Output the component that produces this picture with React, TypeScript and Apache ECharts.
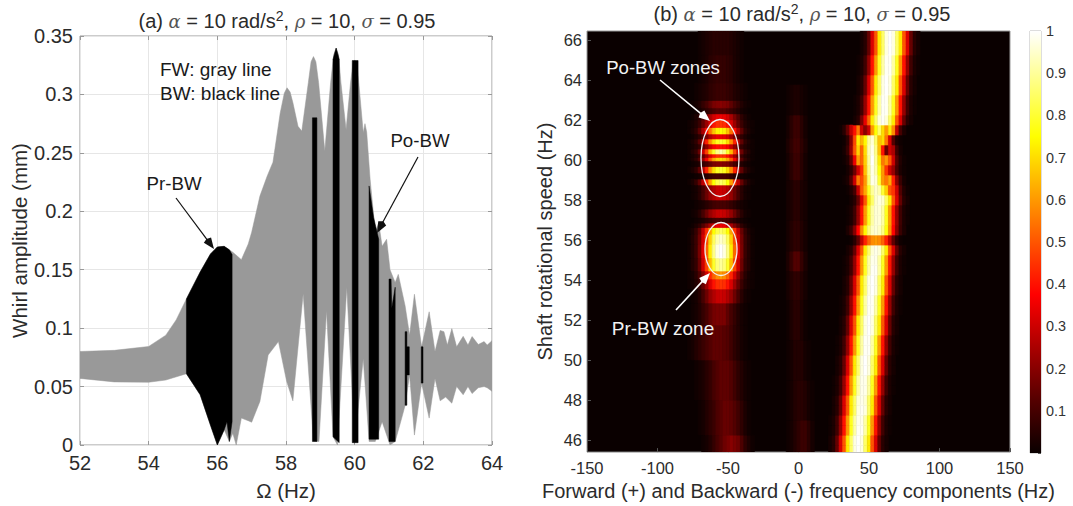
import React, { useEffect, useRef } from "react";
import * as echarts from "echarts";

// ---------- panel (a): whirl amplitude envelopes, [Hz, mm] outlines ----------
const grayUpper = [
  [52, 0.08], [53, 0.081], [54, 0.0843], [54.5, 0.094], [54.8, 0.107], [55.1, 0.125], [55.5, 0.148], [55.8, 0.1635], [56, 0.1695],
  [56.2, 0.17], [56.45, 0.165], [56.7, 0.1586], [56.9, 0.172], [57, 0.182], [57.24, 0.213], [57.45, 0.23], [57.62, 0.242],
  [57.83, 0.284], [57.95, 0.301], [58.03, 0.3057], [58.12, 0.302], [58.2, 0.293], [58.35, 0.2727], [58.46, 0.2686], [58.65, 0.31], [58.73, 0.328], [58.8, 0.3324],
  [58.87, 0.328], [58.95, 0.31], [59.13, 0.2515], [59.3, 0.31], [59.39, 0.334], [59.46, 0.3397], [59.53, 0.334], [59.6, 0.31], [59.75, 0.27], [59.88, 0.31], [59.95, 0.326], [60, 0.3295],
  [60.06, 0.327], [60.12, 0.31], [60.25, 0.2672], [60.3, 0.275], [60.35, 0.2678], [60.45, 0.2274], [60.6, 0.182], [60.7, 0.19], [60.8, 0.17],
  [60.93, 0.176], [61.03, 0.15], [61.18, 0.139], [61.27, 0.146], [61.47, 0.119], [61.6, 0.094], [61.74, 0.129], [61.95, 0.084],
  [62.17, 0.114], [62.34, 0.08], [62.49, 0.098], [62.6, 0.097], [62.7, 0.0855], [62.83, 0.0996], [62.97, 0.084], [63.16, 0.093],
  [63.3, 0.0855], [63.42, 0.0928], [63.6, 0.086], [63.77, 0.0885], [63.86, 0.0855], [64, 0.0893],
];
const grayLower = [
  [52, 0.057], [53, 0.054], [54, 0.0537], [54.5, 0.0556], [55.1, 0.061], [55.5, 0.043], [55.8, 0.017], [56, 0], [56.2, 0.013],
  [56.35, 0.003], [56.45, 0.01], [56.55, 0], [56.7, 0.023], [56.9, 0.0208], [57, 0.0195], [57.24, 0.0373], [57.48, 0.077],
  [57.78, 0.0885], [58.02, 0.0543], [58.2, 0.0378], [58.5, 0.1294], [58.8, 0.0034], [58.96, 0.003], [59.18, 0.115], [59.37, 0.007],
  [59.5, 0], [59.77, 0.135], [60, 0.002], [60.25, 0.074], [60.42, 0.003], [60.6, 0.003], [60.8, 0.02], [61.03, 0], [61.18, 0.003],
  [61.37, 0.023], [61.47, 0.034], [61.6, 0.06], [61.74, 0.0085], [61.95, 0.0528], [62.17, 0.023], [62.34, 0.057], [62.49, 0.0378],
  [62.65, 0.041], [62.83, 0.0358], [62.97, 0.05], [63.16, 0.043], [63.3, 0.05], [63.42, 0.044], [63.6, 0.049], [63.77, 0.05],
  [63.86, 0.049], [64, 0.046],
];
const blackBands = [
  [[55.1, 0.125], [55.5, 0.148], [55.8, 0.1635], [56, 0.1695], [56.2, 0.17], [56.35, 0.167], [56.43, 0.163], [56.43, 0.02], [56.35, 0.003], [56.28, 0.02], [56.2, 0.013], [56, 0], [55.8, 0.017], [55.5, 0.043], [55.1, 0.061]],
  [[58.77, 0.28], [58.9, 0.28], [58.9, 0.003], [58.77, 0.003]],
  [[59.37, 0.33], [59.46, 0.3397], [59.55, 0.33], [59.55, 0.002], [59.37, 0.007]],
  [[59.93, 0.329], [60.1, 0.329], [60.1, 0.002], [59.93, 0.002]],
  [[60.42, 0.2217], [60.55, 0.195], [60.7, 0.176], [60.7, 0.005], [60.42, 0.005]],
  [[61, 0.142], [61.06, 0.142], [61.08, 0.117], [61.18, 0.135], [61.18, 0.003], [61, 0.003]],
  [[61.47, 0.097], [61.52, 0.097], [61.52, 0.084], [61.59, 0.084], [61.59, 0.06], [61.52, 0.06], [61.52, 0.034], [61.47, 0.034]],
  [[61.94, 0.084], [61.99, 0.084], [61.99, 0.053], [61.94, 0.053]],
];

// ---------- panel (b): spectrogram values in percent ----------
const forwardHz = [22.5, 25, 27.5, 30, 32.5, 35, 37.5, 40, 42.5, 45, 47.5, 50, 52.5, 55, 57.5, 60, 62.5, 65, 67.5, 70, 72.5, 75, 77.5, 80, 82.5, 85, 87.5];
const forwardSpeed = [45.5, 46, 46.5, 47, 47.5, 48, 48.5, 49, 49.5, 50, 50.5, 51, 51.5, 52, 52.5, 53, 53.5, 54, 54.5, 55, 55.5, 56, 56.5, 57, 57.5, 58, 58.5, 59, 59.5, 60, 60.5, 61, 61.5, 62, 62.5, 63, 63.5, 64, 64.5, 65, 65.5, 66, 66.5];
const forwardValues = [
  [2,5,15,32,50,72,85,97,100,97,85,72,50,32,15,5,2,0,0,0,0,0,0,0,0,0,0],
  [2,5,15,32,50,72,85,97,100,97,85,72,50,32,15,5,2,0,0,0,0,0,0,0,0,0,0],
  [1,3,9,22,40,60,78,91,99,99,91,78,60,40,22,9,3,1,0,0,0,0,0,0,0,0,0],
  [1,3,9,22,40,60,78,91,98,98,91,78,60,40,22,9,3,1,0,0,0,0,0,0,0,0,0],
  [0,2,5,15,32,50,72,85,97,99,97,85,72,50,32,15,5,2,0,0,0,0,0,0,0,0,0],
  [0,2,5,15,32,50,72,85,96,98,96,85,72,50,32,15,5,2,0,0,0,0,0,0,0,0,0],
  [0,1,3,9,22,40,60,78,91,98,98,91,78,60,40,22,9,3,1,0,0,0,0,0,0,0,0],
  [0,1,3,9,22,40,60,78,91,98,98,91,78,60,40,22,9,3,1,0,0,0,0,0,0,0,0],
  [0,0,2,5,15,32,50,72,85,97,100,97,85,72,50,32,15,5,2,0,0,0,0,0,0,0,0],
  [0,0,2,5,15,32,50,72,85,97,100,97,85,72,50,32,15,5,2,0,0,0,0,0,0,0,0],
  [0,0,1,3,9,22,40,60,78,91,99,99,91,78,60,40,22,9,3,1,0,0,0,0,0,0,0],
  [0,0,1,3,9,22,40,60,78,91,99,99,91,78,60,40,22,9,3,1,0,0,0,0,0,0,0],
  [0,0,0,2,5,15,32,50,72,85,97,100,97,85,72,50,32,15,5,2,0,0,0,0,0,0,0],
  [0,0,0,2,5,15,32,50,72,85,97,100,97,85,72,50,32,15,5,2,0,0,0,0,0,0,0],
  [0,0,0,1,3,9,22,40,60,78,91,99,99,91,78,60,40,22,9,3,1,0,0,0,0,0,0],
  [0,0,0,1,3,9,22,40,60,78,91,99,99,91,78,60,40,22,9,3,1,0,0,0,0,0,0],
  [0,0,0,0,2,5,15,32,50,72,85,97,100,97,85,72,50,32,15,5,2,0,0,0,0,0,0],
  [0,0,0,0,2,5,15,32,50,72,85,97,100,97,85,72,50,32,15,5,2,0,0,0,0,0,0],
  [0,0,0,0,1,3,9,22,40,60,78,91,99,99,91,78,60,40,22,9,3,1,0,0,0,0,0],
  [0,0,0,0,1,3,9,22,40,60,78,91,98,98,91,78,60,40,22,9,3,1,0,0,0,0,0],
  [0,0,0,0,0,2,5,15,32,50,72,85,96,98,96,85,72,50,32,15,5,2,0,0,0,0,0],
  [0,0,0,0,0,0,1,5,14,28,42,52,58,60,58,52,42,28,14,5,1,0,0,0,0,0,0],
  [0,0,0,0,0,3,8,20,38,58,74,86,94,96,94,88,76,58,38,20,8,3,0,0,0,0,0],
  [0,0,0,0,0,1,3,9,22,40,60,78,91,96,96,91,78,60,40,22,9,3,1,0,0,0,0],
  [0,0,0,0,0,1,3,9,22,40,60,78,91,96,96,91,78,60,40,22,9,3,1,0,0,0,0],
  [0,0,0,0,0,0,2,5,15,32,50,72,85,95,97,95,85,72,50,32,15,5,2,0,0,0,0],
  [0,0,0,0,0,1,4,10,28,50,62,78,90,95,92,80,68,50,45,30,12,4,1,0,0,0,0],
  [0,0,0,0,1,3,12,30,55,48,60,85,98,96,80,60,55,62,42,20,8,2,0,0,0,0,0],
  [0,0,0,0,0,2,6,16,30,44,66,88,98,92,76,60,45,30,22,10,3,1,0,0,0,0,0],
  [0,0,0,0,1,4,14,35,60,52,68,90,100,90,72,55,60,50,30,12,4,1,0,0,0,0,0],
  [0,0,0,0,2,8,22,50,68,52,70,92,98,88,66,40,15,30,25,8,2,0,0,0,0,0,0],
  [0,0,0,0,1,6,20,48,72,64,74,90,96,85,66,70,55,32,12,3,1,0,0,0,0,0,0],
  [0,0,0,1,5,15,28,40,55,30,20,30,60,75,85,70,60,72,58,28,10,3,0,0,0,0,0],
  [0,0,0,0,0,0,0,2,5,18,34,52,72,85,96,99,96,85,72,50,32,15,5,2,0,0,0],
  [0,0,0,0,0,0,0,1,3,9,22,40,60,78,91,99,99,91,78,60,40,22,9,3,1,0,0],
  [0,0,0,0,0,0,0,1,3,9,22,40,60,78,91,99,99,91,78,60,40,22,9,3,1,0,0],
  [0,0,0,0,0,0,0,0,2,5,15,32,50,72,85,97,100,97,85,72,50,32,15,5,2,0,0],
  [0,0,0,0,0,0,0,0,2,5,15,32,50,72,85,97,100,97,85,72,50,32,15,5,2,0,0],
  [0,0,0,0,0,0,0,0,1,3,9,22,40,60,78,91,99,99,91,78,60,40,22,9,3,1,0],
  [0,0,0,0,0,0,0,0,1,3,9,22,40,60,78,91,99,99,91,78,60,40,22,9,3,1,0],
  [0,0,0,0,0,0,0,0,0,2,5,15,32,50,72,85,97,100,97,85,72,50,32,15,5,2,0],
  [0,0,0,0,0,0,0,0,0,2,5,15,32,50,72,85,97,100,97,85,72,50,32,15,5,2,0],
  [0,0,0,0,0,0,0,0,0,2,5,15,32,50,72,85,97,100,97,85,72,50,32,15,5,2,0],
];
const backwardHz = [-77.5, -75, -72.5, -70, -67.5, -65, -62.5, -60, -57.5, -55, -52.5, -50, -47.5, -45, -42.5, -40, -37.5, -35, -32.5];
const backwardSpeed = [45.5, 47, 49, 51, 52.5, 53.2, 53.9, 54.2, 54.7, 55.5, 56.1, 56.5, 56.75, 56.95, 57.3, 57.8, 58.2, 58.6, 58.9, 59.2, 59.5, 59.85, 60.06, 60.2, 60.4, 60.7, 60.9, 61.2, 61.4, 61.85, 62.17, 62.45, 62.76, 63.2, 64.5, 66];
const backwardValues = [
  [0,0,0,0,1,2,4,7,10,13,16,18,20,18,16,11,6,3,1],
  [0,0,0,1,2,4,6,8,11,13,15,15,14,12,9,6,3,1,0],
  [0,0,1,2,3,5,7,10,12,14,14,14,12,9,6,4,2,1,0],
  [1,2,4,6,8,10,12,14,14,14,13,12,9,6,4,2,1,0,0],
  [0,1,2,4,7,10,14,17,18,18,18,14,10,7,4,2,1,0,0],
  [0,1,2,5,10,16,22,26,29,30,29,26,22,16,10,5,2,1,0],
  [1,2,4,8,15,23,32,40,44,45,44,40,32,23,15,8,4,2,1],
  [1,2,5,11,20,31,43,52,58,60,58,52,43,31,20,11,5,2,1],
  [1,4,7,16,30,47,65,79,87,90,87,79,65,47,30,16,7,4,1],
  [1,4,8,18,33,52,72,88,97,100,97,88,72,52,33,18,8,4,1],
  [1,4,8,17,31,49,68,84,92,95,92,84,68,49,31,17,8,4,1],
  [1,3,7,15,28,44,61,75,82,85,82,75,61,44,28,15,7,3,1],
  [0,1,3,6,12,18,25,31,34,35,34,31,25,18,12,6,3,1,0],
  [0,0,1,2,3,5,7,9,10,10,10,9,7,5,3,2,1,0,0],
  [0,1,2,5,10,16,22,26,29,30,29,26,22,16,10,5,2,1,0],
  [0,0,1,2,3,5,7,9,10,10,10,9,7,5,3,2,1,0,0],
  [0,1,2,5,10,16,22,26,29,30,29,26,22,16,10,5,2,1,0],
  [0,1,2,5,10,16,22,26,29,30,29,26,22,16,10,5,2,1,0],
  [1,3,7,15,28,44,61,75,82,85,82,75,61,44,28,15,7,3,1],
  [0,0,1,2,3,5,7,9,10,10,10,9,7,5,3,2,1,0,0],
  [1,3,6,14,26,42,58,70,78,80,78,70,58,42,26,14,6,3,1],
  [0,1,2,4,7,10,14,18,19,20,19,18,14,10,7,4,2,1,0],
  [1,3,6,13,23,36,50,62,68,70,68,62,50,36,23,13,6,3,1],
  [1,2,4,8,15,23,32,40,44,45,44,40,32,23,15,8,4,2,1],
  [1,4,7,16,30,47,65,79,88,92,88,79,65,47,30,16,7,4,1],
  [1,2,4,7,14,21,29,36,39,40,39,36,29,21,14,7,4,2,1],
  [1,3,6,14,26,42,58,70,78,80,78,70,58,42,26,14,6,3,1],
  [0,1,3,6,12,18,25,31,34,35,34,31,25,18,12,6,3,1,0],
  [1,3,6,14,25,39,54,66,73,75,73,66,54,39,25,14,6,3,1],
  [1,2,4,8,15,23,32,40,44,45,44,40,32,23,15,8,4,2,1],
  [0,1,3,6,12,18,25,31,34,35,34,31,25,18,12,6,3,1,0],
  [0,0,1,2,4,6,8,10,12,12,12,10,8,6,4,2,1,0,0],
  [0,1,2,4,7,10,14,18,19,20,19,18,14,10,7,4,2,1,0],
  [0,0,1,2,3,4,6,7,8,8,8,7,6,4,3,2,1,0,0],
  [0,0,0,1,2,3,5,6,7,7,7,6,5,3,2,1,0,0,0],
  [0,0,0,1,2,3,4,5,5,5,5,5,4,3,2,1,0,0,0],
];
const centreHz = [-7.5, -5, -2.5, 0, 2.5, 5, 7.5, 10];
const centreSpeed = [46, 48, 50, 52, 54, 54.9, 56, 58, 60, 60.7, 61.5, 63];
const centreValues = [
  [1,2,4,6,8,8,5,2],
  [1,2,4,5,5,4,2,1],
  [1,2,4,4,4,2,1,0],
  [1,3,5,5,3,1,0,0],
  [2,4,6,6,4,2,0,0],
  [3,7,12,12,7,3,0,0],
  [2,4,6,6,4,2,0,0],
  [2,3,5,5,3,2,0,0],
  [2,5,8,8,5,2,0,0],
  [3,6,9,9,6,3,0,0],
  [2,5,8,8,5,2,0,0],
  [1,2,3,3,2,1,0,0],
];

const hotStops = ["#0a0000", "#550000", "#aa0000", "#ff0000", "#ff5500", "#ffaa00", "#ffff00", "#ffff80", "#ffffff"];
const leftXTicks = { min: 52, max: 64, interval: 2 };
const rightYTicks = [46, 48, 50, 52, 54, 56, 58, 60, 62, 64, 66];

function edges(c: number[]) {
  const e: number[] = [c[0] - (c[1] - c[0]) / 2];
  for (let i = 0; i < c.length - 1; i++) e.push((c[i] + c[i + 1]) / 2);
  e.push(c[c.length - 1] + (c[c.length - 1] - c[c.length - 2]) / 2);
  return e;
}
function cells(xs: number[], ys: number[], vals: number[][]) {
  const ex = edges(xs), ey = edges(ys);
  const out: number[][] = [];
  vals.forEach((row, j) => row.forEach((v, i) => {
    if (v > 0) out.push([ex[i], ex[i + 1], ey[j], ey[j + 1], v / 100]);
  }));
  return out;
}

const FONT = '"Liberation Sans", Arial, sans-serif';
const AXIS = "#999999";
const TEXT = "#2b2b2b";
const line0 = { show: false, onZero: false };

function outlineSeries(points: number[][], color: string, z: number) {
  return {
    type: "custom", coordinateSystem: "cartesian2d", xAxisIndex: 0, yAxisIndex: 0, clip: true, z, silent: true,
    data: points, encode: { x: 0, y: 1 },
    renderItem: (p: any, api: any) => {
      if (p.dataIndex !== 0) return null;
      return { type: "polygon", shape: { points: points.map((q) => api.coord(q)) }, style: { fill: color, stroke: color, lineWidth: 0.5 } };
    },
  };
}
function cellSeries(data: number[][]) {
  return {
    type: "custom", coordinateSystem: "cartesian2d", xAxisIndex: 2, yAxisIndex: 2, clip: true, silent: true, z: 2,
    data, encode: { x: [0, 1], y: [2, 3] },
    renderItem: (_: any, api: any) => {
      const a = api.coord([api.value(0), api.value(3)]);
      const b = api.coord([api.value(1), api.value(2)]);
      const c = api.visual("color");
      return { type: "rect", shape: { x: a[0], y: a[1], width: b[0] - a[0], height: b[1] - a[1] }, style: { fill: c, stroke: c, lineWidth: 0.6 } };
    },
  };
}
function arrow(x1: number, y1: number, x2: number, y2: number, color: string) {
  const ang = Math.atan2(y2 - y1, x2 - x1);
  const L = 11, W = 4.5;
  const bx = x2 - L * Math.cos(ang), by = y2 - L * Math.sin(ang);
  const nx = -Math.sin(ang) * W, ny = Math.cos(ang) * W;
  return [
    { type: "line", z: 50, shape: { x1, y1, x2: bx, y2: by }, style: { stroke: color, lineWidth: color === "#fff" ? 1.6 : 1.2 } },
    { type: "polygon", z: 50, shape: { points: [[x2, y2], [bx + nx, by + ny], [bx + (x1 - bx) * 0.03, by + (y1 - by) * 0.03], [bx - nx, by - ny]] }, style: { fill: color } },
  ];
}
function label(text: string, x: number, y: number, color: string, size = 18.7, align = "center") {
  return { type: "text", z: 50, x, y, style: { text, fill: color, font: `${size}px ${FONT}`, textAlign: align, textVerticalAlign: "middle" } };
}
const titleRich = {
  n: { fontFamily: FONT, fontWeight: "normal", fontSize: 20, color: TEXT },
  g: { fontFamily: '"DejaVu Serif", serif', fontStyle: "italic", fontWeight: "normal", fontSize: 18, color: "#555" },
  s: { fontFamily: FONT, fontWeight: "normal", fontSize: 14, color: TEXT, verticalAlign: "top", lineHeight: 24 },
};
const titleText = (tag: string) => `{n|${tag} }{g|α}{n| = 10 rad/s}{s|2}{n|, }{g|ρ}{n| = 10, }{g|σ}{n| = 0.95}`;

export default function App() {
  const ref = useRef<HTMLDivElement>(null);
  useEffect(() => {
    const chart = echarts.init(ref.current!, undefined, { renderer: "svg" });
    const box = { show: true, borderColor: AXIS, borderWidth: 1, backgroundColor: "#fff" };
    const bare = { axisLine: line0, axisLabel: { show: false }, splitLine: { show: false } };
    chart.setOption({
      animation: false,
      backgroundColor: "#fff",
      textStyle: { fontFamily: FONT },
      title: [
        { text: titleText("(a)"), left: 282, top: 4, textAlign: "center", textStyle: { fontWeight: "normal", rich: titleRich } },
        { text: titleText("(b)"), left: 797, top: -3, textAlign: "center", textStyle: { fontWeight: "normal", rich: titleRich } },
      ],
      grid: [
        { left: 80, top: 36, width: 412, height: 411, ...box },
        { left: 587, top: 31, width: 423, height: 422, show: true, borderColor: AXIS, borderWidth: 1, backgroundColor: "#0a0000" },
        { left: 1030, top: 31, width: 11, height: 422, show: true, borderColor: "#777", borderWidth: 0.5, backgroundColor: "#fff" },
      ],
      xAxis: [
        {
          gridIndex: 0, type: "value", ...leftXTicks, position: "bottom", name: "Ω (Hz)", nameLocation: "middle", nameGap: 35,
          nameTextStyle: { fontFamily: FONT, fontSize: 20.5, color: TEXT },
          axisLine: line0, axisTick: { inside: true, length: 4, lineStyle: { color: AXIS } },
          axisLabel: { fontFamily: FONT, fontSize: 20, color: TEXT, margin: 8 },
          splitLine: { show: true, lineStyle: { color: "#e6e6e6", width: 1 } },
        },
        { gridIndex: 0, type: "value", ...leftXTicks, position: "top", ...bare, axisTick: { inside: true, length: 4, lineStyle: { color: AXIS } } },
        {
          gridIndex: 1, type: "value", min: -150, max: 150, interval: 50, position: "bottom",
          name: "Forward (+) and Backward (-) frequency components (Hz)", nameLocation: "middle", nameGap: 27,
          nameTextStyle: { fontFamily: FONT, fontSize: 20, color: TEXT },
          axisLine: line0, axisTick: { inside: true, length: 4, lineStyle: { color: "#555" } },
          axisLabel: { fontFamily: FONT, fontSize: 16.5, color: TEXT, margin: 7 }, splitLine: { show: false },
        },
        { gridIndex: 2, type: "value", min: 0, max: 1, ...bare, axisTick: { show: false } },
      ],
      yAxis: [
        {
          gridIndex: 0, type: "value", min: 0, max: 0.35, interval: 0.05, name: "Whirl amplitude (mm)", nameLocation: "middle", nameGap: 48,
          nameTextStyle: { fontFamily: FONT, fontSize: 20.5, color: TEXT },
          axisLine: line0, axisTick: { inside: true, length: 4, lineStyle: { color: AXIS } },
          axisLabel: { fontFamily: FONT, fontSize: 20, color: TEXT, margin: 7 },
          splitLine: { show: true, lineStyle: { color: "#e6e6e6", width: 1 } },
        },
        { gridIndex: 0, type: "value", min: 0, max: 0.35, interval: 0.05, position: "right", ...bare, axisTick: { inside: true, length: 4, lineStyle: { color: AXIS } } },
        {
          gridIndex: 1, type: "value", min: 45.4, max: 66.45, name: "Shaft rotational speed (Hz)", nameLocation: "middle", nameGap: 32,
          nameTextStyle: { fontFamily: FONT, fontSize: 20, color: TEXT },
          axisLine: line0,
          axisTick: { inside: true, length: 4, lineStyle: { color: "#555" }, customValues: rightYTicks },
          axisLabel: { fontFamily: FONT, fontSize: 16.5, color: TEXT, margin: 5, customValues: rightYTicks },
          splitLine: { show: false },
        },
        {
          gridIndex: 2, type: "value", min: 0, max: 1, interval: 0.1, position: "right",
          axisLine: line0, axisTick: { inside: true, length: 3, lineStyle: { color: "#555" } },
          axisLabel: { fontFamily: FONT, fontSize: 14.4, color: "#333", margin: 5, formatter: (v: number) => (v === 0 ? "" : String(+v.toFixed(1))) },
          splitLine: { show: false },
        },
      ],
      visualMap: {
        show: false, type: "continuous", min: 0, max: 1, dimension: 4, seriesIndex: [2 + blackBands.length, 3 + blackBands.length, 4 + blackBands.length],
        inRange: { color: hotStops },
      },
      series: [
        outlineSeries([...grayUpper, ...[...grayLower].reverse()], "#999999", 3),
        { type: "custom", xAxisIndex: 1, yAxisIndex: 1, data: [], renderItem: () => null },
        ...blackBands.map((b) => outlineSeries(b, "#000000", 4)),
        cellSeries(cells(backwardHz, backwardSpeed, backwardValues)),
        cellSeries(cells(centreHz, centreSpeed, centreValues)),
        cellSeries(cells(forwardHz, forwardSpeed, forwardValues)),
        {
          type: "custom", coordinateSystem: "cartesian2d", xAxisIndex: 3, yAxisIndex: 3, silent: true, data: [[0, 0]], z: 2,
          renderItem: (_: any, api: any) => {
            const a = api.coord([0, 1]);
            const b = api.coord([1, 0]);
            return {
              type: "rect", shape: { x: a[0], y: a[1], width: b[0] - a[0], height: b[1] - a[1] },
              style: {
                fill: new echarts.graphic.LinearGradient(0, 1, 0, 0, hotStops.map((color, i) => ({ offset: i / (hotStops.length - 1), color }))),
              },
            };
          },
        },
      ],
      graphic: [
        label("FW: gray line", 160, 69, "#1a1a1a", 19, "left"),
        label("BW: black line", 160, 93, "#1a1a1a", 19, "left"),
        label("Pr-BW", 174, 183, "#1a1a1a"),
        label("Po-BW", 420, 140, "#1a1a1a"),
        ...arrow(176, 198, 214, 249, "#111"),
        ...arrow(418, 157, 377, 233, "#111"),
        label("Po-BW zones", 663, 67, "#f2f2f2", 18.6),
        label("Pr-BW zone", 663, 328, "#f2f2f2", 19),
        ...arrow(660, 80, 710, 121, "#fff"),
        ...arrow(676, 310, 710, 273, "#fff"),
        { type: "ellipse", z: 50, shape: { cx: 720, cy: 158, rx: 19, ry: 38.5 }, style: { fill: "none", stroke: "#f0f0f0", lineWidth: 1.3 } },
        { type: "ellipse", z: 50, shape: { cx: 721, cy: 249, rx: 16, ry: 26.5 }, style: { fill: "none", stroke: "#f0f0f0", lineWidth: 1.3 } },
      ],
    });
    return () => chart.dispose();
  }, []);
  return <div ref={ref} style={{ width: 1073, height: 506, position: "absolute", left: 0, top: 0 }} />;
}
